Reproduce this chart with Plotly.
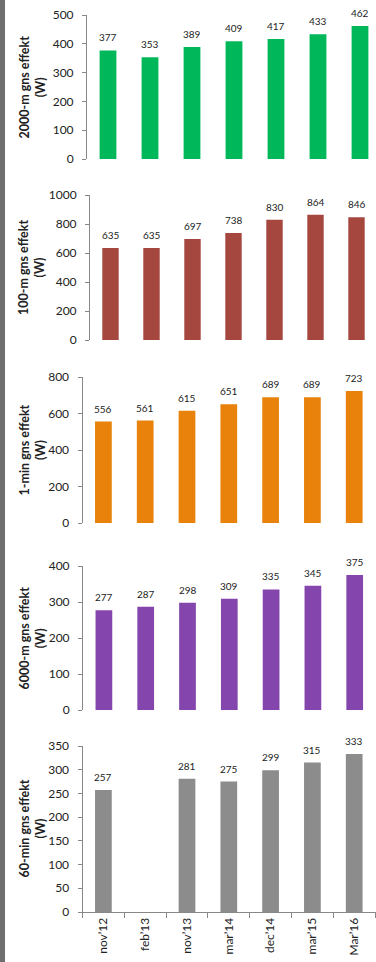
import plotly.graph_objects as go

# Test dates (x categories)
categories = ["nov’12", "feb’13", "nov’13", "mar’14", "dec’14", "mar’15", "Mar’16"]

# Average power per test, in watts
power_2000m = [377, 353, 389, 409, 417, 433, 462]
power_100m = [635, 635, 697, 738, 830, 864, 846]
power_1min = [556, 561, 615, 651, 689, 689, 723]
power_6000m = [277, 287, 298, 309, 335, 345, 375]
power_60min = [257, None, 281, 275, 299, 315, 333]

titles = [
    "2000-m gns effekt<br>(W)",
    "100-m gns effekt<br>(W)",
    "1-min gns effekt<br>(W)",
    "6000-m gns effekt<br>(W)",
    "60-min gns effekt<br>(W)",
]

W, H = 376, 962
FONT = "Lato, 'Open Sans', sans-serif"
AXIS_COLOR = "#888888"
TEXT_COLOR = "#222222"

# panel layout in pixels: (axis x, step, top y, bottom y, y max, y dtick, colour)
panels = [
    (power_2000m, 87.0, 42.0, 15, 159, 500, 100, "#00b85a"),
    (power_100m, 90.0, 41.0, 195, 340, 1000, 200, "#a5463f"),
    (power_1min, 82.5, 41.8, 377, 523, 800, 200, "#e8820a"),
    (power_6000m, 83.0, 41.8, 566, 710, 400, 100, "#8446ad"),
    (power_60min, 82.5, 41.8, 746, 912, 350, 50, "#8c8c8c"),
]

fig = go.Figure()
annotations = []

for i, (vals, ax_x, step, top, bot, ymax, dtick, color) in enumerate(panels):
    n = i + 1
    xa = "x" if n == 1 else f"x{n}"
    ya = "y" if n == 1 else f"y{n}"
    xkey = "xaxis" if n == 1 else f"xaxis{n}"
    ykey = "yaxis" if n == 1 else f"yaxis{n}"

    fig.add_trace(go.Bar(
        x=categories, y=vals, xaxis=xa, yaxis=ya,
        marker=dict(color=color, line=dict(width=0)),
        width=0.4, showlegend=False, hoverinfo="skip",
    ))

    x_end = -0.5 + (W - ax_x) / step
    last = n == len(panels)
    fig.update_layout({
        xkey: dict(
            domain=[ax_x / W, 1.0],
            anchor=ya,
            type="category",
            categoryorder="array",
            categoryarray=categories,
            range=[-0.5, x_end],
            automargin=False,
            showgrid=False,
            zeroline=False,
            showline=last,
            linecolor=AXIS_COLOR,
            linewidth=1,
            ticks="outside" if last else "",
            tickson="boundaries",
            ticklen=5,
            tickcolor=AXIS_COLOR,
            showticklabels=last,
            tickangle=-90,
            tickfont=dict(family=FONT, size=12, color=TEXT_COLOR),
        ),
        ykey: dict(
            domain=[1 - bot / H, 1 - top / H],
            anchor=xa,
            range=[0, ymax],
            dtick=dtick,
            automargin=False,
            showgrid=False,
            zeroline=False,
            showline=True,
            linecolor=AXIS_COLOR,
            linewidth=1,
            ticks="outside",
            ticklen=4,
            tickcolor=AXIS_COLOR,
            ticklabelstandoff=6,
            tickfont=dict(family=FONT, size=12, color=TEXT_COLOR),
        ),
    })

    # value labels above each bar
    for cat, v in zip(categories, vals):
        if v is None:
            continue
        annotations.append(dict(
            x=cat, y=v, xref=xa, yref=ya, text=str(v), showarrow=False,
            yanchor="middle", yshift=13,
            font=dict(family=FONT, size=10, color=TEXT_COLOR),
        ))

    # axis title, two lines, rotated
    annotations.append(dict(
        x=31.5 / W, y=1 - (top + bot) / 2 / H, xref="paper", yref="paper",
        text=f"<b>{titles[i]}</b>", textangle=-90, showarrow=False,
        xanchor="center", yanchor="middle",
        font=dict(family=FONT, size=12.5, color=TEXT_COLOR),
    ))

fig.update_layout(
    width=W, height=H,
    margin=dict(l=0, r=0, t=0, b=0, autoexpand=False),
    paper_bgcolor="white",
    plot_bgcolor="white",
    bargap=0.6,
    annotations=annotations,
    shapes=[dict(
        type="rect", xref="paper", yref="paper",
        x0=0, x1=5 / W, y0=0, y1=1,
        fillcolor="#6e6e6e", line=dict(width=0), layer="above",
    )],
)

fig.write_html("out.html", config={"displayModeBar": False})
